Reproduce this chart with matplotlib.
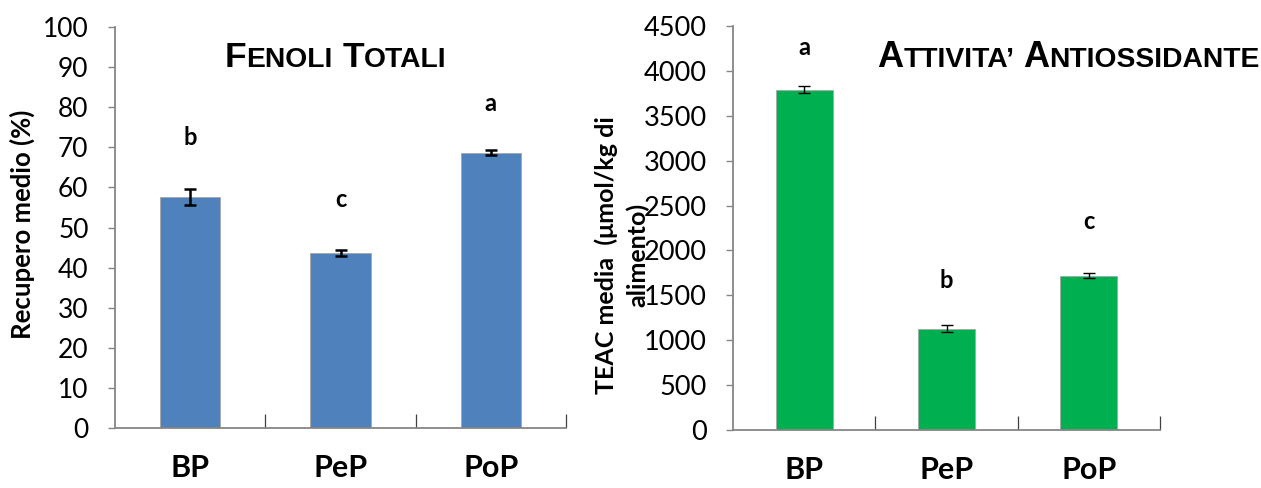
import matplotlib
matplotlib.use("Agg")
import matplotlib.pyplot as plt
from matplotlib.ticker import MultipleLocator, FixedLocator

categories = ["BP", "PeP", "PoP"]
fenoli = [57.6, 43.6, 68.7]
fenoli_err = [2.0, 0.7, 0.6]
fenoli_letters = ["b", "c", "a"]
fenoli_letter_y = [72.5, 57, 81]

teac = [3790, 1130, 1720]
teac_err = [40, 35, 25]
teac_letters = ["a", "b", "c"]
teac_letter_y = [4260, 1660, 2320]

BLUE = "#4F81BD"
GREEN = "#00B050"
SPINE = "#868686"
FONT = "Lato"

W, H = 1261, 488
fig = plt.figure(figsize=(W / 100, H / 100), dpi=100)

def make_ax(rect, values, errs, color, ymax, ystep, lw_err, letters, letter_y, ysize):
    ax = fig.add_axes(rect)
    x = list(range(len(categories)))
    ax.bar(x, values, width=0.4, color=color, edgecolor="#A6A6A6", linewidth=0.6, zorder=2)
    ax.errorbar(x, values, yerr=errs, fmt="none", ecolor="black", elinewidth=lw_err,
                capsize=4.5, capthick=lw_err, zorder=3)
    for xi, lt, ly in zip(x, letters, letter_y):
        ax.text(xi, ly, lt, ha="center", va="center", fontsize=17, fontweight="bold",
                family=FONT)
    ax.set_xlim(-0.5, 2.5)
    ax.set_ylim(0, ymax)
    ax.yaxis.set_major_locator(MultipleLocator(ystep))
    ax.set_xticks(x)
    ax.set_xticklabels(categories, fontsize=22, fontweight="bold", family=FONT)
    ax.xaxis.set_minor_locator(FixedLocator([0.5, 1.5, 2.5]))
    ax.tick_params(axis="x", which="major", length=0, pad=19)
    ax.tick_params(axis="x", which="minor", direction="in", length=10, color="#404040", width=0.9)
    ax.tick_params(axis="y", which="major", direction="out", length=5, color=SPINE, width=1,
                   labelsize=ysize, pad=14)
    for lab in ax.get_yticklabels():
        lab.set_family(FONT)
    for s in ["top", "right"]:
        ax.spines[s].set_visible(False)
    for s in ["left", "bottom"]:
        ax.spines[s].set_color(SPINE)
        ax.spines[s].set_linewidth(1.3)
    return ax

ax1 = make_ax([115 / W, 1 - 428 / H, 451 / W, 401 / H], fenoli, fenoli_err, BLUE, 100, 10,
              1.8, fenoli_letters, fenoli_letter_y, 19)
ax2 = make_ax([733 / W, 1 - 430 / H, 427 / W, 404 / H], teac, teac_err, GREEN, 4500, 500,
              1.0, teac_letters, teac_letter_y, 19.5)

fig.text(22 / W, 1 - 224 / H, "Recupero medio (%)", rotation=90, ha="center", va="center",
         fontsize=18.5, fontweight="bold", family=FONT)
fig.text(622 / W, 1 - 255 / H, "TEAC media  (\u03bcmol/kg di\nalimento)", rotation=90,
         ha="center", va="center", fontsize=18, fontweight="bold", family=FONT,
         linespacing=1.4)

def small_caps(x_left, y_base, text, big=22, small=17):
    renderer = fig.canvas.get_renderer()
    pieces = []
    for word_i, word in enumerate(text.split(" ")):
        if word_i > 0:
            pieces.append((" ", small))
        pieces.append((word[0], big))
        if len(word) > 1:
            pieces.append((word[1:], small))
    x = x_left
    for s, size in pieces:
        if s == " ":
            x += size * 100 / 72 * 0.33
            continue
        t = fig.text(x / W, 1 - y_base / H, s, fontsize=size, fontweight="bold",
                     family="Liberation Sans", ha="left", va="baseline")
        bb = t.get_window_extent(renderer)
        x += bb.width

small_caps(225, 67, "FENOLI TOTALI", big=25.5, small=20.3)
small_caps(877, 67, "ATTIVITA\u2019 ANTIOSSIDANTE", big=26, small=20.3)

fig.savefig("out.png", dpi=100)
